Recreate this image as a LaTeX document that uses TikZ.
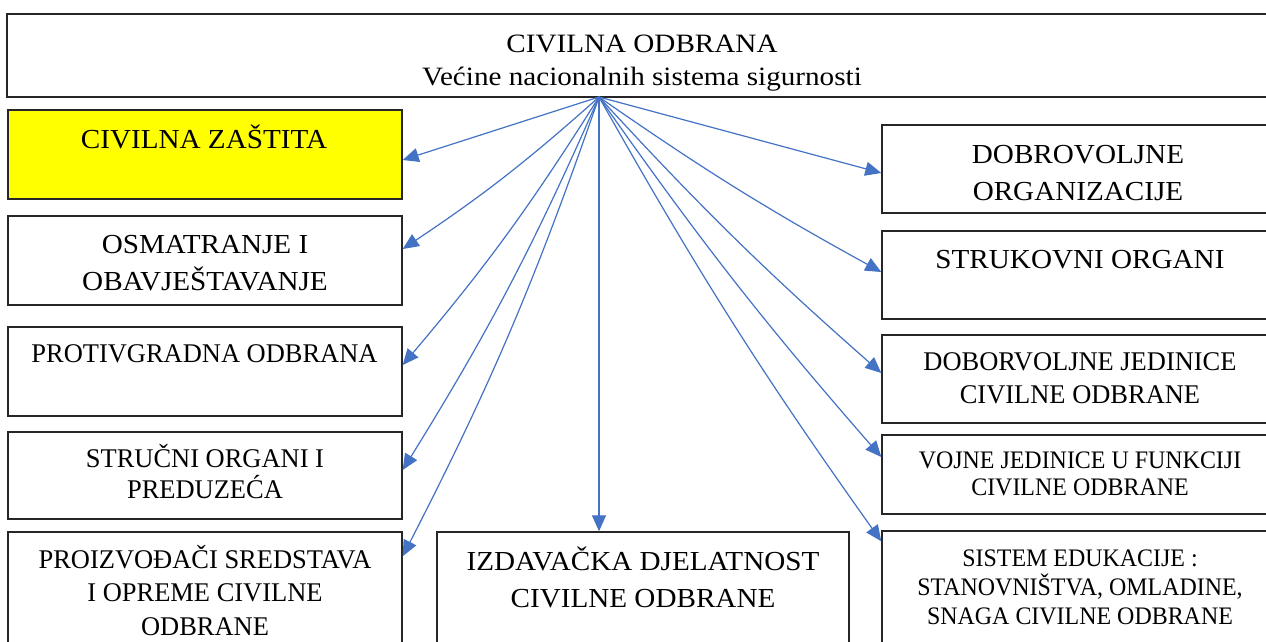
\documentclass[tikz,border=0pt]{standalone}
\usepackage{fontspec}
\setmainfont{Liberation Serif}
\newfontfamily\titleserif{Liberation Serif}[FakeStretch=1.1]
\newfontfamily\wideserif{Liberation Serif}[FakeStretch=1.06]
\newfontfamily\midserif{Liberation Serif}[FakeStretch=0.98]
\newfontfamily\narrowserif{Liberation Serif}[FakeStretch=0.95]
\usetikzlibrary{arrows.meta}
\definecolor{linkblue}{RGB}{68,114,196}
\definecolor{boxyellow}{RGB}{255,255,0}

\tikzset{
    box/.style={draw=black!85, line width=1.4pt, inner sep=0pt},
    bigtext/.style={font=\wideserif\fontsize{27.5}{36.5}\selectfont, align=center, anchor=base, inner sep=0pt},
    midtext/.style={font=\midserif\fontsize{27}{32.5}\selectfont, align=center, anchor=base, inner sep=0pt},
    smalltext/.style={font=\narrowserif\fontsize{25.2}{29}\selectfont, align=center, anchor=base, inner sep=0pt},
    link/.style={draw=linkblue, line width=1.2pt, -{Triangle[length=16pt, width=14pt]}}
}

\begin{document}
\begin{tikzpicture}[x=1pt, y=-1pt]
    \useasboundingbox (0,0) rectangle (1266,641);
    \fill [white] (0,0) rectangle (1266,641);
    \clip (0,0) rectangle (1266,641);

    % Top box
    \node [box, minimum width=1283pt, minimum height=83pt] (top) at (648.5,55.5) {};
    \node [bigtext, font=\titleserif\fontsize{26.5}{33}\selectfont] (top-t) at (642,85)
        {CIVILNA ODBRANA\\ Većine nacionalnih sistema sigurnosti};

    % Left column
    \node [box, fill=boxyellow, minimum width=394pt, minimum height=89pt] (zastita) at (205,154.5) {};
    \node [box, minimum width=394pt, minimum height=89pt] (osmatranje) at (205,260.5) {};
    \node [box, minimum width=394pt, minimum height=89pt] (protivgradna) at (205,371.5) {};
    \node [box, minimum width=394pt, minimum height=87pt] (strucni) at (205,475.5) {};
    \node [box, minimum width=394pt, minimum height=168pt] (proizvodjaci) at (205,616) {};
    \node [bigtext] (zastita-t) at (204,148) {CIVILNA ZAŠTITA};
    \node [bigtext] (osmatranje-t) at (205,290) {OSMATRANJE I\\ OBAVJEŠTAVANJE};
    \node [midtext] (protivgradna-t) at (204.5,362) {PROTIVGRADNA ODBRANA};
    \node [midtext, font=\midserif\fontsize{27}{31}\selectfont] (strucni-t) at (205,498) {STRUČNI ORGANI I\\ PREDUZEĆA};
    \node [midtext, font=\midserif\fontsize{27}{33.5}\selectfont] (proizvodjaci-t) at (205,635)
        {PROIZVOĐAČI SREDSTAVA\\ I OPREME CIVILNE\\ ODBRANE};

    % Middle box
    \node [box, minimum width=412pt, minimum height=168pt] (izdavacka) at (643,616) {};
    \node [bigtext] (izdavacka-t) at (643,607) {IZDAVAČKA DJELATNOST\\ CIVILNE ODBRANE};

    % Right column
    \node [box, minimum width=408pt, minimum height=88pt] (dobrovoljne) at (1086,169) {};
    \node [box, minimum width=408pt, minimum height=88pt] (strukovni) at (1086,275) {};
    \node [box, minimum width=408pt, minimum height=88pt] (jedinice) at (1086,379) {};
    \node [box, minimum width=408pt, minimum height=79pt] (vojne) at (1086,474.5) {};
    \node [box, minimum width=408pt, minimum height=169pt] (edukacija) at (1086,615.5) {};
    \node [bigtext] (dobrovoljne-t) at (1078,200) {DOBROVOLJNE\\ ORGANIZACIJE};
    \node [bigtext] (strukovni-t) at (1080,268) {STRUKOVNI ORGANI};
    \node [midtext] (jedinice-t) at (1080,403) {DOBORVOLJNE JEDINICE\\ CIVILNE ODBRANE};
    \node [smalltext, font=\narrowserif\fontsize{25.2}{27}\selectfont] (vojne-t) at (1080,495)
        {VOJNE JEDINICE U FUNKCIJI\\ CIVILNE ODBRANE};
    \node [smalltext] (edukacija-t) at (1080,624)
        {SISTEM EDUKACIJE :\\ STANOVNIŠTVA, OMLADINE,\\ SNAGA CIVILNE ODBRANE};

    % Connector ends
    \coordinate (src) at (599,97);
    \coordinate (zastita-in) at ([yshift=-5.5pt]zastita.east);
    \coordinate (osmatranje-in) at ([yshift=11.5pt]osmatranje.east);
    \coordinate (protivgradna-in) at ([yshift=6.5pt]protivgradna.east);
    \coordinate (strucni-in) at ([yshift=5.5pt]strucni.east);
    \coordinate (proizvodjaci-in) at ([yshift=-25pt]proizvodjaci.north east);
    \coordinate (izdavacka-in) at ([xshift=-44pt]izdavacka.north);
    \coordinate (dobrovoljne-in) at ([yshift=-4pt]dobrovoljne.west);
    \coordinate (strukovni-in) at ([yshift=3pt]strukovni.west);
    \coordinate (jedinice-in) at ([yshift=6pt]jedinice.west);
    \coordinate (vojne-in) at ([yshift=17.5pt]vojne.west);
    \coordinate (edukacija-in) at ([yshift=-11pt]edukacija.north west);

    % Connectors
    \draw [link] (src) -- (zastita-in);
    \draw [link] (src) -- (izdavacka-in);
    \draw [link] (src) -- (dobrovoljne-in);
    \foreach \t in {osmatranje,protivgradna,strucni,proizvodjaci}
        \draw [link] (src) to [bend left=4] (\t-in);
    \foreach \t in {strukovni,jedinice,vojne,edukacija}
        \draw [link] (src) to [bend right=3] (\t-in);
\end{tikzpicture}
\end{document}
